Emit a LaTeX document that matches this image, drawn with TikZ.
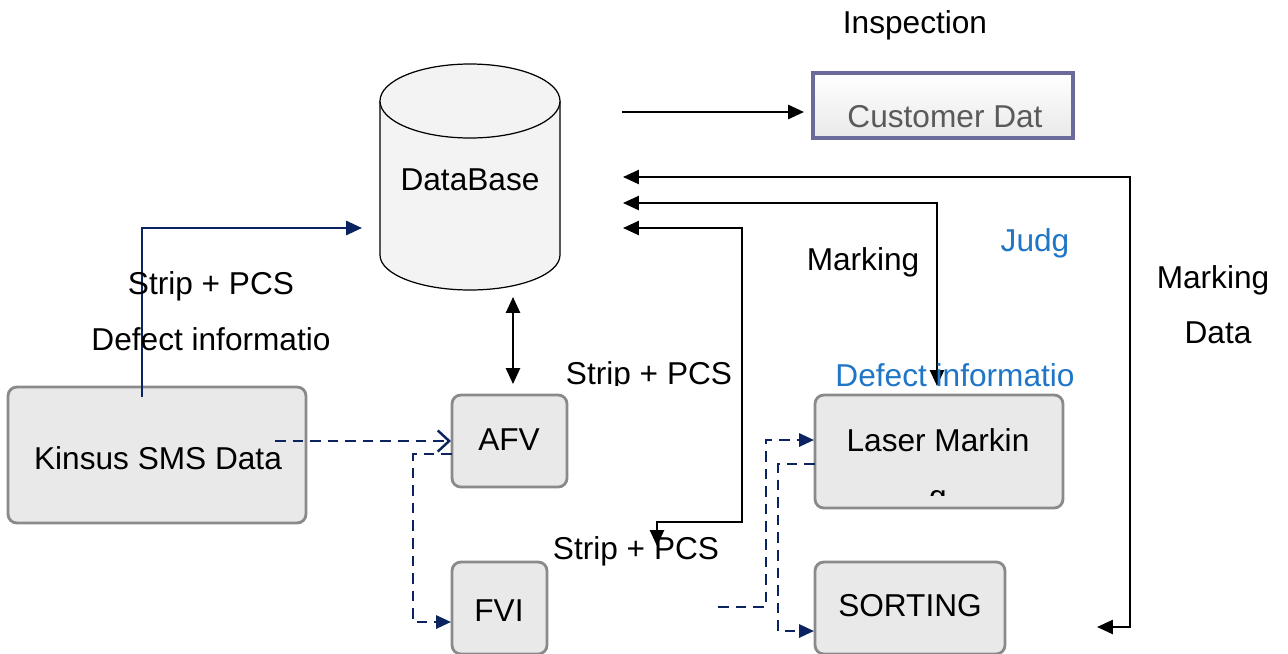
\documentclass[tikz,border=0pt]{standalone}
\usepackage{fontspec}
\setmainfont{Liberation Sans}
\usetikzlibrary{arrows.meta}

\definecolor{navyline}{HTML}{0B2461}
\definecolor{boxgray}{HTML}{E9E9E9}
\definecolor{boxedge}{HTML}{8A8A8A}
\definecolor{dbfill}{HTML}{F3F3F3}
\definecolor{labelblue}{HTML}{1F76C6}
\definecolor{custedge}{HTML}{6B6B9B}
\definecolor{custtext}{HTML}{5A5A5A}

\tikzset{
    procbox/.style={draw=boxedge, fill=boxgray, line width=1.6pt, rounded corners=5pt},
    lbl/.style={font=\fontsize{18}{22}\selectfont, inner sep=0pt, anchor=base},
    ret/.style={black, line width=1.1pt, {Triangle[length=9pt,width=8pt]}-{Triangle[length=9pt,width=8pt]}},
    flow/.style={black, line width=1.3pt, -{Triangle[length=9pt,width=8pt]}},
    solidnavy/.style={navyline, line width=1.4pt, -{Triangle[length=9pt,width=8pt]}},
    dashnavy/.style={navyline, line width=1.4pt, dash pattern=on 6pt off 4pt, -{Triangle[length=8.5pt,width=7.5pt]}},
    opennavy/.style={navyline, line width=1.4pt, dash pattern=on 6pt off 4pt, -{Straight Barb[length=6.5pt,width=12pt]}}
}

\begin{document}
\begin{tikzpicture}[x=0.02cm, y=-0.02cm]
    \useasboundingbox (0,0) rectangle (1288,653);

    % database cylinder
    \draw [fill=dbfill, line width=0.7pt] (380,101) -- (380,255)
        arc [start angle=180, end angle=0, x radius=90, y radius=35] -- (560,101);
    \draw [fill=dbfill, line width=0.7pt] (470,101) ellipse [x radius=90, y radius=37];
    \node [lbl] (db) at (470,190) {DataBase};

    % boxes
    \node [draw=custedge, line width=2pt, top color=white, bottom color=boxgray,
        minimum width=5.2cm, minimum height=1.3cm] (cust) at (943,105.5) {};
    \node [lbl, text=custtext] (custtxt) at (945,127) {Customer Dat};
    \node [lbl] (insp) at (915,33) {Inspection};

    \node [procbox, minimum width=5.96cm, minimum height=2.72cm] (kinsus) at (157,455) {};
    \node [lbl] (kinsustxt) at (158,469) {Kinsus SMS Data};
    \node [procbox, minimum width=2.3cm, minimum height=1.84cm] (afv) at (509.5,441) {};
    \node [lbl] (afvtxt) at (509,450) {AFV};
    \node [procbox, minimum width=1.9cm, minimum height=1.84cm] (fvi) at (499.5,608) {};
    \node [lbl] (fvitxt) at (499,621) {FVI};
    \node [procbox, minimum width=4.96cm, minimum height=2.26cm] (laser) at (939,451.5) {};
    \node [lbl] (lasertxt) at (938,451) {Laser Markin};
    \begin{scope}
        \clip (815,395) rectangle (1063,495);
        \node [lbl] (lasertail) at (938,507) {g};
    \end{scope}
    \node [procbox, minimum width=3.8cm, minimum height=1.84cm] (sort) at (910,608) {};
    \node [lbl] (sorttxt) at (910,616) {SORTING};

    % end points
    \coordinate (dbout) at (622,112);
    \coordinate (in1) at (623,177);
    \coordinate (in2) at (623,203);
    \coordinate (in3) at (623,228);
    \coordinate (sortret) at (1097,627);
    \coordinate (markin) at (937,386);
    \coordinate (stripin) at (657,546);
    \coordinate (dbbot) at (513,297);
    \coordinate (afvtop) at (513,384);
    \coordinate (ksrc) at (142,397);
    \coordinate (dbin) at (362,228);
    \coordinate (kout) at (275,441);
    \coordinate (afvin) at (451,441);
    \coordinate (afvout) at (452,454);
    \coordinate (fviin) at (451,622);
    \coordinate (free) at (718,607);
    \coordinate (laserin) at (814,440);
    \coordinate (laserout) at (815,464);
    \coordinate (sortin) at (814,631);

    % black connectors
    \draw [flow] (dbout) -- (804,112);
    \draw [ret] (in1) -| (1130,627) -- (sortret);
    \draw [ret] (in2) -| (markin);
    \draw [ret] (in3) -| (742,522) -| (stripin);
    \draw [ret] (dbbot) -- (afvtop);

    % navy connectors
    \draw [solidnavy] (ksrc) |- (dbin);
    \draw [opennavy] (kout) -- (afvin);
    \draw [dashnavy] (afvout) -- (413,454) |- (fviin);
    \draw [dashnavy] (free) -- (766,607) |- (laserin);
    \draw [dashnavy] (laserout) -- (778,464) |- (sortin);

    % labels
    \node [lbl] (l1) at (211,294) {Strip + PCS};
    \node [lbl] (l2) at (211,350) {Defect informatio};
    \begin{scope}
        \clip (560,340) rectangle (740,385);
        \node [lbl] (l3) at (649,384) {Strip + PCS};
    \end{scope}
    \node [lbl] (l4) at (636,559) {Strip + PCS};
    \node [lbl] (l5) at (863,270) {Marking};
    \node [lbl, text=labelblue] (l6) at (1035,251) {Judg};
    \node [lbl, text=labelblue] (l7) at (955,386) {Defect informatio};
    \node [lbl] (l8) at (1213,288) {Marking};
    \node [lbl] (l9) at (1218,343) {Data};
\end{tikzpicture}
\end{document}
